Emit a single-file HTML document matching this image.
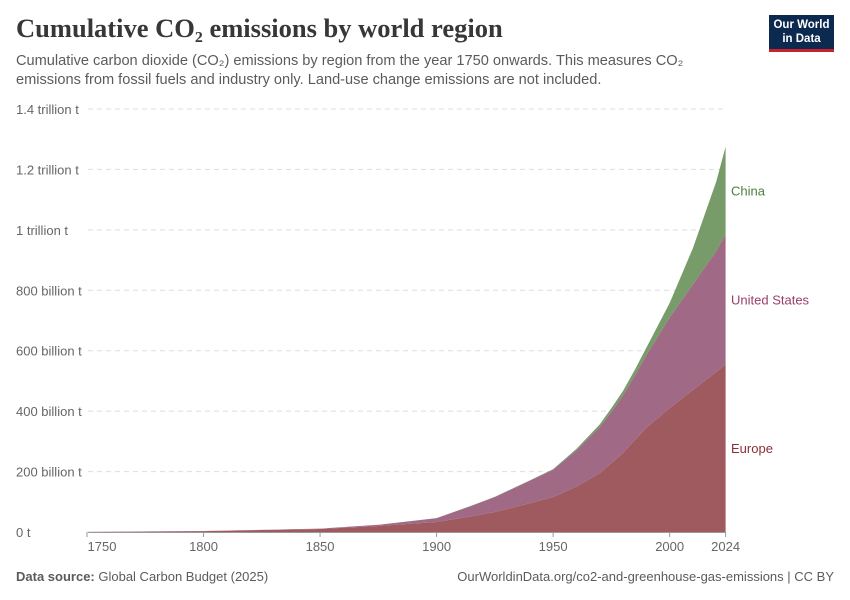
<!DOCTYPE html>
<html><head><meta charset="utf-8"><style>
body{margin:0;background:#fff;font-family:"Liberation Sans",sans-serif;}
#wrap{position:relative;width:850px;height:600px;overflow:hidden;}
.t{position:absolute;white-space:nowrap;}
</style></head><body>
<div id="wrap">
<div class="t" style="left:16px;top:13px;font-family:'Liberation Serif',serif;font-size:26.5px;font-weight:bold;color:#373737;">Cumulative CO₂ emissions by world region</div>
<div class="t" style="left:16px;top:52px;font-size:14.6px;line-height:19px;color:#5b5b5b;">Cumulative carbon dioxide (CO₂) emissions by region from the year 1750 onwards. This measures CO₂<br>emissions from fossil fuels and industry only. Land-use change emissions are not included.</div>
<div style="position:absolute;left:769px;top:15px;width:65px;height:37px;background:#0c2a4f;border-bottom:3px solid #c8232c;color:#fff;font-size:11.5px;font-weight:bold;text-align:center;line-height:14px;padding-top:3px;box-sizing:border-box;">Our World<br>in Data</div>
<svg id="chart" width="850" height="600" style="position:absolute;left:0;top:0"></svg>
<div class="t" style="left:16px;top:569px;font-size:13px;color:#5b5b5b;"><b>Data source:</b> Global Carbon Budget (2025)</div>
<div class="t" style="right:16px;top:569px;font-size:13px;color:#5b5b5b;">OurWorldinData.org/co2-and-greenhouse-gas-emissions | CC BY</div>
</div>
<script>
const years=[1750,1800,1850,1875,1900,1915,1925,1940,1950,1960,1970,1975,1980,1985,1990,2000,2010,2020,2024];
const europe=[0.5,3,10,20,33,52,66,95,116,150,195,228,262,304,345,410,470,530,555];
const unitedStates=[0,0.2,1,4,13,35,50,75,90,120,152,170,190,213,240,300,350,400,430];
const china=[0,0,0,0,0,0.3,0.5,1,2,5,9,12,15,19,25,48,120,230,290];
const yTicks=[0,200,400,600,800,1000,1200,1400];
const yTickLabels=["0 t","200 billion t","400 billion t","600 billion t","800 billion t","1 trillion t","1.2 trillion t","1.4 trillion t"];
const xTicks=[1750,1800,1850,1900,1950,2000,2024];
const NS="http://www.w3.org/2000/svg";
const svg=document.getElementById('chart');
const x=y=>87+(y-1750)*(725.6-87)/274;
const yS=v=>532-v*(532-109)/1400;
function mk(t,a){const e=document.createElementNS(NS,t);for(const k in a)e.setAttribute(k,a[k]);svg.appendChild(e);return e;}
yTicks.forEach((v,i)=>{
  if(v>0){const g=mk('line',{x1:88,x2:726,y1:yS(v),y2:yS(v),stroke:'#ddd','stroke-dasharray':'5,4'});
  
  }
  const t=mk('text',{x:16,y:yS(v)+5,'font-size':13,fill:'#666','font-family':'Liberation Sans,sans-serif'});
  t.textContent=yTickLabels[i];
  
  
});
const series=[{n:'europe',d:europe,c:'#9e5a5e',lab:'Europe',lc:'#883039'},{n:'united-states',d:unitedStates,c:'#a06a86',lab:'United States',lc:'#9a3f6a'},{n:'china',d:china,c:'#779b69',lab:'China',lc:'#4c7f3a'}];
let base=years.map(()=>0);
series.forEach(s=>{
  const top=base.map((b,i)=>b+s.d[i]);
  let p='M'+years.map((yr,i)=>x(yr)+','+yS(top[i])).join('L');
  for(let i=years.length-1;i>=0;i--)p+='L'+x(years[i])+','+yS(base[i]);
  const a=mk('path',{d:p+'Z',fill:s.c});
  
  
  const n=years.length-1;
  const t=mk('text',{x:731,y:(yS(top[n])+yS(base[n]))/2+5,'font-size':13,fill:s.lc,'font-family':'Liberation Sans,sans-serif'});
  t.textContent=s.lab;
  
  
  base=top;
});
const ax=mk('line',{x1:88,x2:726,y1:532.5,y2:532.5,stroke:'#999'});


xTicks.forEach(yr=>{
  const tk=mk('line',{x1:x(yr),x2:x(yr),y1:532,y2:537,stroke:'#999'});
  
  
  const t=mk('text',{x:yr==1750?x(yr)+15:x(yr),y:551,'font-size':13,fill:'#666','text-anchor':'middle','font-family':'Liberation Sans,sans-serif'});
  t.textContent=yr;
  
  
});
</script>
</body></html>
